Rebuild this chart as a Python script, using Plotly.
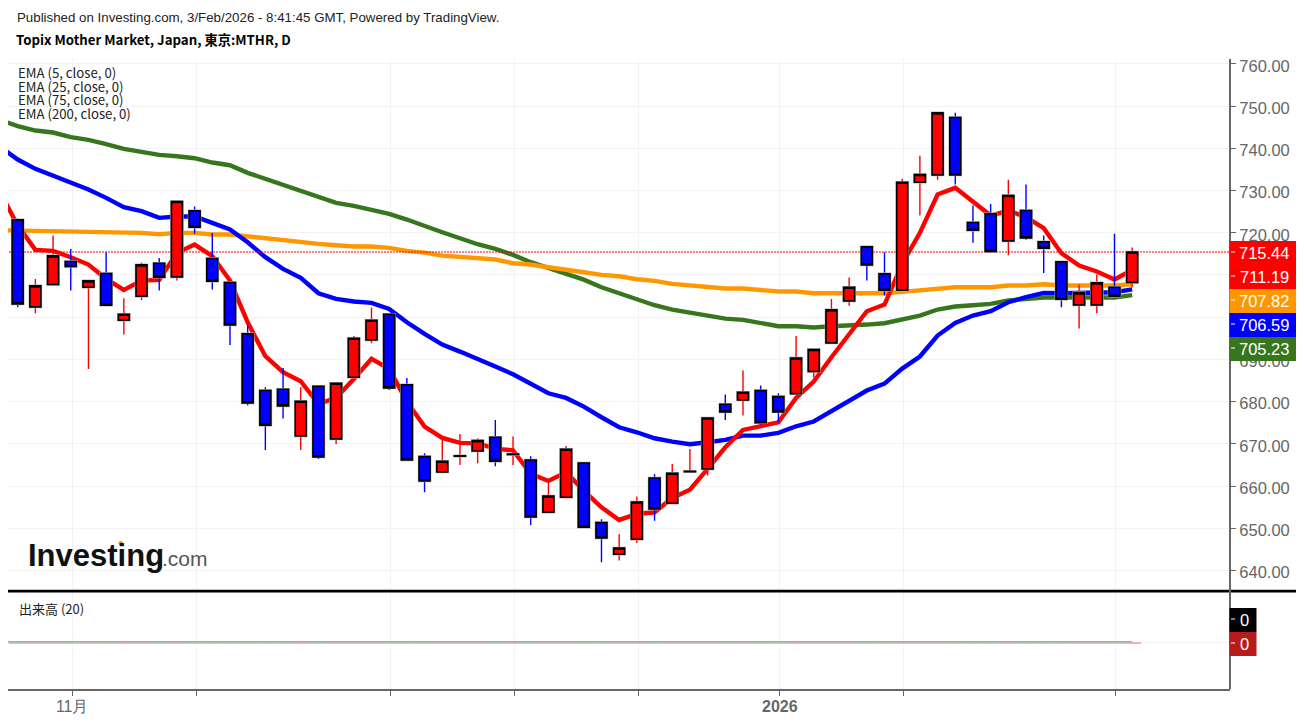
import plotly.graph_objects as go

# daily candles
opens = [723.05, 702.45, 707.74, 713.18, 707.1, 710.34, 699.29, 704.97, 712.79, 709.55, 725.18, 713.89, 708.21, 696.05, 682.63, 682.95,
         671.89, 683.66, 671.18, 685.79, 694.63, 700.71, 683.97, 666.99, 663.36, 667.1, 668.33, 671.57, 667.5, 666.2, 653.8, 657.36,
         665.49, 651.36, 643.86, 647.41, 661.94, 655.94, 663.4, 664.07, 679.39, 680.41, 682.62, 681.2, 681.91, 687.13, 693.92, 703.87,
         716.66, 710.27, 706.39, 731.98, 733.71, 747.29, 722.42, 724.48, 718.08, 725.27, 717.84, 713.11, 702.92, 702.92, 707.11, 708.21]
highs = [723.3, 709.08, 719.34, 716.18, 708.6, 715.39, 704.5, 712.95, 714.05, 727.39, 726.2, 719.97, 708.21, 698.02, 683.42, 688.0,
         683.42, 683.66, 684.37, 695.58, 702.29, 700.71, 685.63, 667.78, 671.18, 672.36, 671.33, 675.68, 671.73, 667.07, 661.15, 669.52,
         665.5, 652.15, 648.67, 657.52, 662.89, 665.26, 668.81, 676.23, 681.68, 687.36, 683.81, 681.99, 695.57, 692.4, 704.34, 709.4,
         716.9, 715.39, 732.77, 738.21, 748.4, 748.4, 726.45, 726.84, 732.53, 731.42, 719.34, 713.26, 707.74, 710.11, 719.74, 716.5]
lows = [702.37, 700.95, 707.74, 706.31, 687.76, 702.84, 695.89, 704.1, 706.31, 708.68, 719.74, 706.55, 693.44, 679.08, 668.58, 676.0,
        668.58, 666.44, 670.0, 685.79, 693.84, 682.79, 666.2, 658.55, 663.36, 665.02, 665.41, 664.7, 665.02, 650.8, 653.8, 657.2,
        650.25, 641.96, 642.36, 646.54, 651.83, 655.94, 663.4, 662.49, 675.68, 676.7, 674.57, 675.12, 681.91, 685.7, 693.92, 702.69,
        708.69, 705.13, 706.39, 724.08, 732.53, 731.42, 717.61, 715.55, 714.69, 718.32, 710.5, 702.37, 697.32, 700.95, 704.74, 707.11]
closes = [703.16, 707.42, 714.53, 712.0, 708.6, 702.84, 700.71, 712.39, 709.47, 727.39, 721.32, 708.52, 698.18, 679.71, 674.42, 679.0,
          680.1, 666.92, 684.37, 695.02, 699.29, 683.26, 666.2, 661.23, 665.89, 667.2, 670.78, 665.89, 667.6, 652.7, 657.67, 668.73,
          650.25, 647.73, 645.36, 656.25, 654.6, 663.04, 663.5, 676.15, 677.57, 682.23, 675.04, 677.57, 690.36, 692.34, 701.74, 707.11,
          712.4, 706.39, 731.98, 733.79, 748.4, 733.71, 720.61, 715.55, 728.82, 718.79, 716.34, 704.26, 705.76, 708.13, 704.98, 715.44]

# the EMAs start one bar left of the visible range, so they run off the edge
ema5 = [729.6, 721.79, 715.95, 715.71, 714.21, 712.47, 709.08, 706.47, 708.68, 708.84, 715.24, 717.21, 714.45, 708.68, 698.81, 690.76, 686.97,
        684.84, 679.47, 680.9, 685.39, 690.13, 687.76, 680.0, 674.1, 671.41, 670.23, 670.15, 668.81, 668.49, 662.89, 661.23, 663.28,
        658.94, 654.99, 651.99, 653.41, 653.81, 657.2, 659.17, 664.07, 669.2, 673.31, 674.1, 675.12, 680.89, 684.76, 690.53, 696.05,
        701.42, 703.0, 712.63, 719.98, 729.06, 730.64, 727.48, 724.08, 725.27, 723.69, 721.08, 715.16, 712.24, 710.82, 708.92, 711.19]
ema25 = [740.42, 737.34, 735.13, 733.55, 731.74, 730.24, 728.26, 726.05, 725.11, 723.53, 723.84, 723.84, 722.34, 720.76, 717.76, 714.21, 711.45,
         709.31, 705.68, 704.34, 703.71, 703.39, 701.97, 698.81, 696.05, 693.52, 691.86, 689.97, 688.31, 686.49, 684.2, 681.99, 680.89,
         678.83, 676.31, 673.94, 672.75, 671.33, 670.55, 669.91, 670.39, 670.94, 671.97, 671.97, 672.6, 674.18, 675.3, 677.66, 680.26,
         682.63, 684.29, 687.84, 690.7, 695.66, 698.66, 700.4, 701.42, 703.56, 704.74, 705.76, 705.69, 705.69, 705.69, 705.92, 706.59]
ema75 = [720.6, 720.53, 720.45, 720.21, 720.21, 720.21, 719.97, 719.97, 719.97, 719.66, 719.97, 719.97, 719.58, 719.58, 719.11, 718.55, 718.2,
         717.68, 717.37, 717.05, 716.74, 716.74, 716.42, 715.71, 715.31, 714.6, 714.29, 713.97, 713.66, 712.79, 712.47, 711.84, 711.35,
         710.66, 710.03, 709.71, 709.0, 708.6, 707.89, 707.5, 707.1, 706.79, 706.79, 706.39, 706.08, 706.08, 705.68, 705.68, 705.68,
         705.69, 705.69, 706.0, 706.4, 706.79, 707.1, 707.1, 707.1, 707.5, 707.5, 707.82, 707.5, 707.5, 707.5, 707.5, 707.82]
ema200 = [746.74, 745.24, 744.21, 743.74, 742.63, 742.0, 740.98, 739.87, 739.16, 738.45, 738.13, 737.66, 736.63, 736.0, 734.19, 732.77, 731.42,
          730.0, 728.66, 727.08, 726.37, 725.5, 724.47, 723.13, 721.55, 720.13, 718.71, 717.29, 716.18, 714.76, 713.03, 711.68, 710.5,
          708.9, 707.1, 705.68, 704.18, 702.84, 701.81, 701.1, 700.31, 699.68, 699.37, 698.66, 697.87, 697.87, 697.55, 697.87, 697.95,
          698.26, 698.58, 699.6, 700.4, 701.82, 702.53, 702.84, 703.16, 703.95, 704.34, 704.66, 704.66, 704.66, 704.66, 704.66, 705.23]

volume = [0] * 64
volume_ma = [0.025] * 65

price_ticks = [640, 650, 660, 670, 680, 690, 700, 710, 720, 730, 740, 750, 760]
# 700 and 710 sit fully behind the last value boxes
price_tick_text = ['640.00', '650.00', '660.00', '670.00', '680.00', '690.00', '', '', '720.00', '730.00', '740.00', '750.00', '760.00']
time_tick_bars = [3, 10, 21, 28, 35, 43, 50, 62]
time_tick_text = ['11月', '', '', '', '', '<b>2026</b>', '', '']
ema_names = ['EMA (5, close, 0)', 'EMA (25, close, 0)', 'EMA (75, close, 0)', 'EMA (200, close, 0)']

last_labels = ['715.44', '711.19', '707.82', '706.59', '705.23']
last_colors = ['#ff0000', '#ff0000', '#ff9800', '#0000ff', '#38761d']
vol_labels = ['0', '0']
vol_colors = ['#000000', '#b71c1c']

RED = '#ff0000'
BLUE = '#0000ff'
ORANGE = '#ff9800'
GREEN = '#38761d'
AXIS = '#666666'
GRID = '#f3f3f3'
PRICE_RANGE = [635.38, 761.15]

bars = list(range(len(closes)))
ema_x = list(range(-1, len(closes)))


# page pixels to paper coordinates, the page has an 8px body margin
def px(x):
    return (x - 8) / 1222


def py(y):
    return (689 - y) / 630


fig = go.Figure()

for values, color in [(ema200, GREEN), (ema75, ORANGE), (ema25, BLUE), (ema5, RED)]:
    fig.add_trace(go.Scatter(x=ema_x, y=values, mode='lines', line=dict(color=color, width=4.4), yaxis='y', hoverinfo='skip'))

# last price line
fig.add_trace(go.Scatter(x=[-1, 70], y=[closes[-1], closes[-1]], mode='lines', line=dict(color=RED, width=1.1, dash='2px,1px'), yaxis='y', hoverinfo='skip'))

# wicks and bodies need different outline colours so they are separate traces
fig.add_trace(go.Candlestick(x=bars, open=opens, high=highs, low=lows, close=closes, yaxis='y3',
                             increasing=dict(line=dict(color=RED, width=1.4), fillcolor=RED),
                             decreasing=dict(line=dict(color=BLUE, width=1.4), fillcolor=BLUE)))
body_high = [max(o, c) for o, c in zip(opens, closes)]
body_low = [min(o, c) for o, c in zip(opens, closes)]
# soft grey edge round the bodies
fig.add_trace(go.Candlestick(x=bars, open=opens, high=body_high, low=body_low, close=closes, yaxis='y3',
                             increasing=dict(line=dict(color='#b0b0b0', width=2.6), fillcolor=RED),
                             decreasing=dict(line=dict(color='#b0b0b0', width=2.6), fillcolor=BLUE)))
fig.add_trace(go.Candlestick(x=bars, open=opens, high=body_high, low=body_low, close=closes, yaxis='y3',
                             increasing=dict(line=dict(color='black', width=1.6), fillcolor=RED),
                             decreasing=dict(line=dict(color='black', width=1.6), fillcolor=BLUE)))

vol_colours = ['#f0b4b8' if c > o else '#b0dcb0' for o, c in zip(opens, closes)]
fig.add_trace(go.Bar(x=bars, y=volume, width=1, marker=dict(color=vol_colours, line=dict(color=vol_colours, width=2)), yaxis='y2', hoverinfo='skip'))
fig.add_trace(go.Scatter(x=ema_x, y=volume_ma, mode='lines', line=dict(color='#aaaaaa', width=1.5), yaxis='y2', hoverinfo='skip'))

shapes = []
# pane separator
shapes.append(dict(type='line', xref='paper', yref='paper', x0=0, x1=px(1297), y0=py(590.6), y1=py(590.6), line=dict(color='black', width=1.5), layer='above'))
shapes.append(dict(type='line', xref='paper', yref='paper', x0=0, x1=px(1304), y0=py(591.8), y1=py(591.8), line=dict(color='black', width=1.5), layer='above'))
# axis line down through the separator
shapes.append(dict(type='line', xref='paper', yref='paper', x0=1, x1=1, y0=0, y1=1, line=dict(color=AXIS, width=2), layer='above'))

annotations = []


def label_box(text, color, top, right):
    shapes.append(dict(type='rect', xref='paper', yref='paper', x0=px(1229.5), x1=px(right), y0=py(top), y1=py(top + 24),
                       fillcolor=color, line=dict(width=0), layer='above'))
    shapes.append(dict(type='line', xref='paper', yref='paper', x0=px(1231), x1=px(1235), y0=py(top + 11), y1=py(top + 11),
                       line=dict(color='white', width=1), layer='above'))
    annotations.append(dict(text=text, xref='paper', yref='paper', x=px((1229.5 + right) / 2 + 1), y=py(top + 12), xanchor='center', yanchor='middle',
                            showarrow=False, font=dict(family='Liberation Sans', size=16.5, color='white')))


for i, text in enumerate(last_labels):
    label_box(text, last_colors[i], 241 + 24 * i, 1297)
for i, text in enumerate(vol_labels):
    label_box(text, vol_colors[i], 608 + 24 * i, 1256.5)


def text_at(text, x, y, size, family, color='black', xanchor='left'):
    annotations.append(dict(text=text, xref='paper', yref='paper', x=px(x), y=py(y), xanchor=xanchor, yanchor='middle',
                            showarrow=False, font=dict(family=family, size=size, color=color)))


text_at('Published on Investing.com, 3/Feb/2026 - 8:41:45 GMT, Powered by TradingView.', 15, 17, 13.3, 'Liberation Sans', '#222222')
text_at('<b>Topix Mother Market, Japan, 東京:MTHR, D</b>', 14, 39.5, 13.25, 'Noto Sans CJK JP')
for i, name in enumerate(ema_names):
    text_at(name, 16, 72.5 + 13.7 * i, 13.2, 'Noto Sans CJK JP', '#222222')
text_at('出来高 (20)', 17, 608, 13, 'Noto Sans CJK JP', '#222222')

# logo
text_at('<b>Investing</b>', 26, 555, 31, 'Liberation Sans', '#111111')
text_at('.com', 160, 558.8, 21, 'Liberation Sans', '#555555')
shapes.append(dict(type='circle', xref='paper', yref='paper', x0=px(118.5), x1=px(123), y0=py(541), y1=py(545.5), fillcolor='#f7941d', line=dict(width=0), layer='above'))

fig.update_layout(
    width=1296,
    height=706,
    margin=dict(l=0, r=74, t=51, b=25, pad=0),
    paper_bgcolor='white',
    plot_bgcolor='white',
    showlegend=False,
    boxgap=0.38,
    boxgroupgap=0,
    shapes=shapes,
    annotations=annotations,
    xaxis=dict(range=[-0.548, 68.53], rangeslider=dict(visible=False), tickmode='array',
               tickvals=[b + 0.08 for b in time_tick_bars], ticktext=time_tick_text, ticks='outside', ticklen=5, tickcolor=AXIS, tickwidth=1,
               ticklabelstandoff=-3, tickfont=dict(family='Liberation Sans', size=16, color=AXIS), showline=True, linecolor=AXIS, linewidth=2,
               showgrid=True, gridcolor=GRID, gridwidth=1, zeroline=False, anchor='y2'),
    yaxis=dict(domain=[0.157, 1], range=PRICE_RANGE, side='right', anchor='x', tickmode='array', tickvals=price_ticks,
               ticktext=price_tick_text, ticks='outside', ticklen=5, tickcolor=AXIS, tickwidth=1, ticklabelshift=2,
               tickfont=dict(family='Liberation Sans', size=16.5, color=AXIS), showgrid=True, gridcolor=GRID, gridwidth=1, zeroline=False),
    yaxis2=dict(domain=[0, 0.1524], range=[-0.96, 1.04], side='right', anchor='x', tickmode='array', tickvals=[0], ticktext=[''],
                showgrid=True, gridcolor=GRID, zeroline=False),
    yaxis3=dict(overlaying='y', range=PRICE_RANGE, side='right', anchor='x', visible=False),
)

fig.write_html("out.html")
